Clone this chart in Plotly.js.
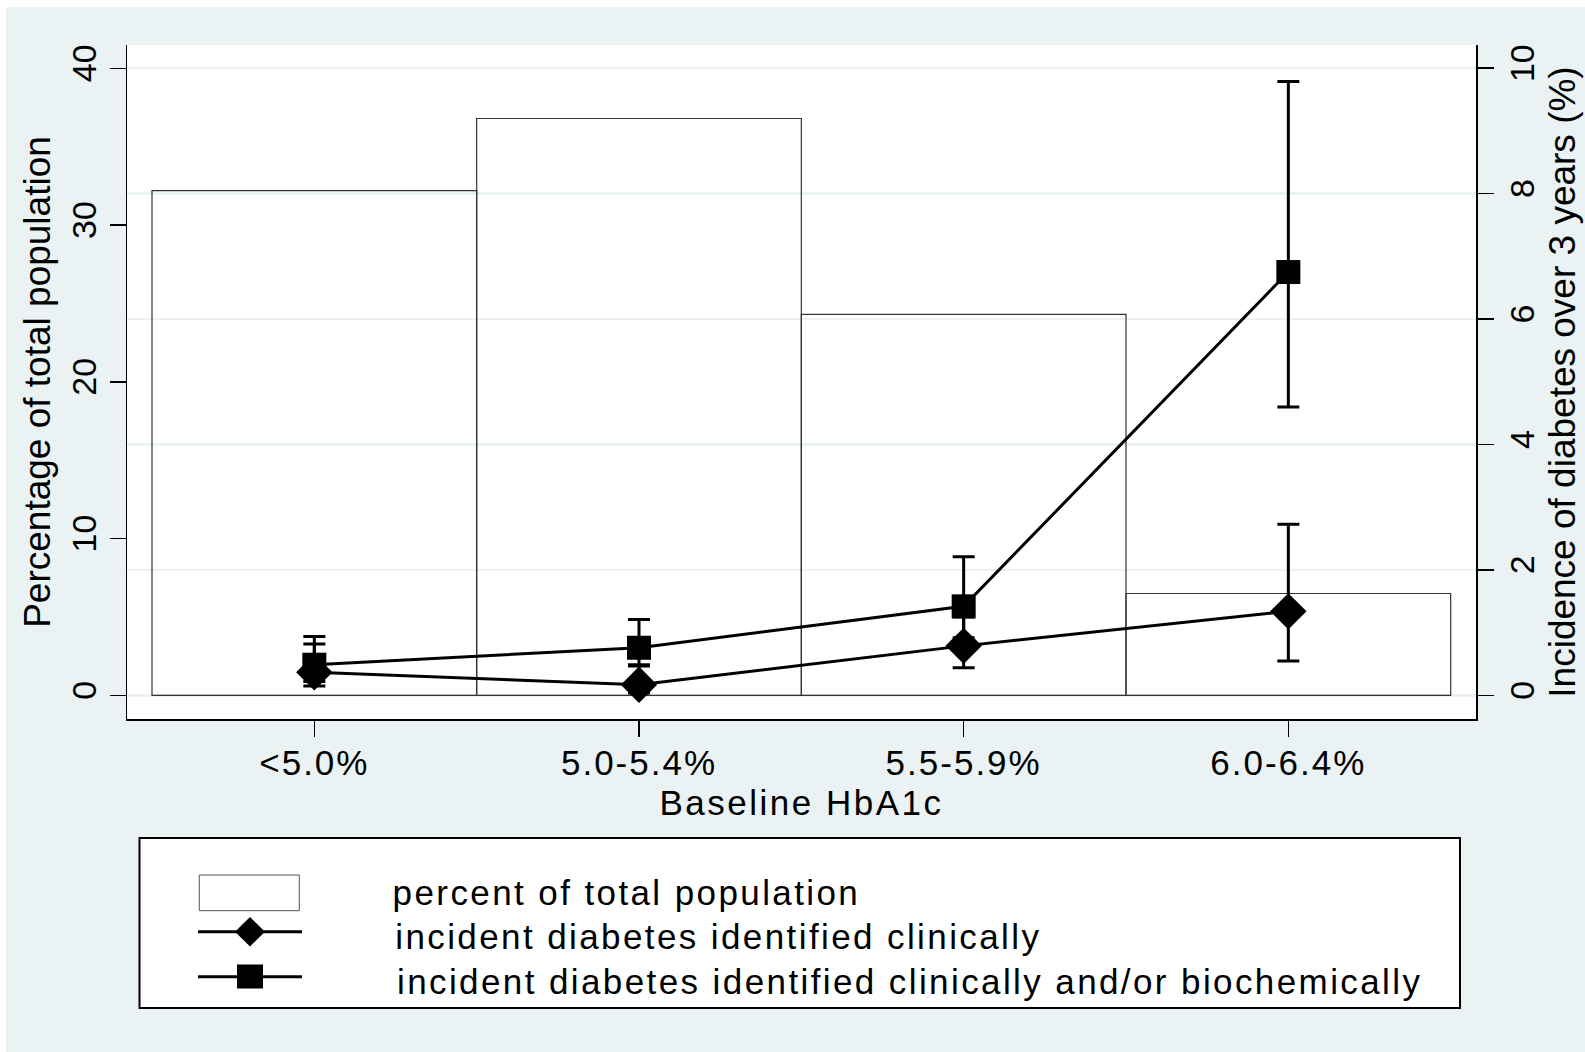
<!DOCTYPE html>
<html>
<head>
<meta charset="utf-8">
<script src="https://cdn.plot.ly/plotly-3.0.1.min.js"></script>
<style>
  html, body { margin: 0; padding: 0; background: #ffffff; }
  #chart { position: absolute; left: 6px; top: 7px; width: 1579px; height: 1045px; }
  /* reference text is horizontally stretched: widen horizontal text a little */
  #chart .xtick text { letter-spacing: 2px; }
  #chart .g-xtitle text { letter-spacing: 2.5px; }
  #chart .annotation-text { letter-spacing: 2.4px; }
</style>
</head>
<body>
<div id="chart"></div>
<script>
// ---- data ----
const categories = ['<5.0%', '5.0-5.4%', '5.5-5.9%', '6.0-6.4%'];
const pctPopulation = [32.2, 36.8, 24.3, 6.5];

const clinical      = [0.37, 0.17, 0.79, 1.34];
const clinicalLow   = [0.15, 0.04, 0.44, 0.55];
const clinicalHigh  = [0.82, 0.49, 1.25, 2.73];

const combined      = [0.49, 0.76, 1.42, 6.75];
const combinedLow   = [0.22, 0.47, 0.92, 4.60];
const combinedHigh  = [0.94, 1.21, 2.21, 9.79];

const leftTicks  = [0, 10, 20, 30, 40];
const rightTicks = [0, 2, 4, 6, 8, 10];

const legendLabels = [
  'percent of total population',
  'incident diabetes identified clinically',
  'incident diabetes identified clinically and/or biochemically'
];

// ---- layout helpers (page pixel -> paper coords) ----
const FONT = 'Liberation Sans, Arial, sans-serif';
const PL = 127, PR = 1476, PT = 45, PB = 719;
const px = X => (X - PL) / (PR - PL);
const py = Y => (PB - Y) / (PB - PT);
const LEGEND_SPACING = 2.4;

const bg = '#EAF2F3';

const traces = [
  {
    type: 'bar', x: categories, y: pctPopulation, yaxis: 'y',
    name: legendLabels[0], width: 1,
    marker: { color: 'rgba(255,255,255,0)', line: { color: '#333333', width: 1.2 } },
    showlegend: false, hoverinfo: 'x+y'
  },
  {
    type: 'scatter', mode: 'lines+markers', x: categories, y: clinical, yaxis: 'y2',
    name: legendLabels[1],
    line: { color: '#000', width: 3 },
    marker: { symbol: 'diamond', size: 28, color: '#000' },
    error_y: {
      type: 'data', symmetric: false,
      array: clinicalHigh.map((v, i) => v - clinical[i]),
      arrayminus: clinical.map((v, i) => v - clinicalLow[i]),
      color: '#000', thickness: 3, width: 11
    },
    showlegend: false
  },
  {
    type: 'scatter', mode: 'lines+markers', x: categories, y: combined, yaxis: 'y2',
    name: legendLabels[2],
    line: { color: '#000', width: 3 },
    marker: { symbol: 'square', size: 24, color: '#000' },
    error_y: {
      type: 'data', symmetric: false,
      array: combinedHigh.map((v, i) => v - combined[i]),
      arrayminus: combined.map((v, i) => v - combinedLow[i]),
      color: '#000', thickness: 3, width: 11
    },
    showlegend: false
  }
];

const tickFont = { family: FONT, size: 34, color: '#000' };
const xTickFont = { family: FONT, size: 35, color: '#000' };
const titleFont = { family: FONT, size: 37, color: '#000' };
const xTitleFont = { family: FONT, size: 35, color: '#000' };

// custom legend
const LX0 = 198, LX1 = 302;
const shapes = [
  { type: 'rect', xref: 'paper', yref: 'paper', x0: px(139.5), x1: px(1460), y0: py(1008), y1: py(838),
    fillcolor: '#fff', line: { color: '#000', width: 2 }, layer: 'above' },
  { type: 'rect', xref: 'paper', yref: 'paper', x0: px(199.3), x1: px(299.3), y0: py(910.7), y1: py(875),
    fillcolor: '#fff', line: { color: '#555', width: 1 }, layer: 'above' },
  { type: 'line', xref: 'paper', yref: 'paper', x0: px(LX0), x1: px(LX1), y0: py(931.7), y1: py(931.7),
    line: { color: '#000', width: 3 }, layer: 'above' },
  { type: 'path', xref: 'paper', yref: 'paper',
    path: `M ${px(235)} ${py(931.7)} L ${px(250)} ${py(917)} L ${px(265)} ${py(931.7)} L ${px(250)} ${py(946.4)} Z`,
    fillcolor: '#000', line: { color: '#000', width: 0 }, layer: 'above' },
  { type: 'line', xref: 'paper', yref: 'paper', x0: px(LX0), x1: px(LX1), y0: py(976.7), y1: py(976.7),
    line: { color: '#000', width: 3 }, layer: 'above' },
  { type: 'rect', xref: 'paper', yref: 'paper', x0: px(237), x1: px(263), y0: py(988.5), y1: py(964.5),
    fillcolor: '#000', line: { color: '#000', width: 0 }, layer: 'above' }
];

const legendY = [892, 936, 981];
const legendX = [391, 393, 395];
const annotations = legendLabels.map((t, i) => ({
  xref: 'paper', yref: 'paper', x: px(legendX[i]), y: py(legendY[i]),
  xanchor: 'left', yanchor: 'middle', showarrow: false, text: t,
  xshift: t.length * LEGEND_SPACING / 2,
  font: { family: FONT, size: 35, color: '#000' }
}));

const layout = {
  width: 1579, height: 1045,
  margin: { l: PL - 6, r: 1579 - (PR - 6), t: PT - 7, b: 1045 - (PB - 7), pad: 0 },
  paper_bgcolor: bg,
  plot_bgcolor: '#ffffff',
  font: { family: FONT, size: 34, color: '#000' },
  showlegend: false,
  bargap: 0,
  xaxis: {
    range: [-0.577, 3.578],
    showline: true, linecolor: '#000', linewidth: 1.5,
    ticks: 'outside', ticklen: 16, tickwidth: 1.5, tickcolor: '#000',
    tickfont: xTickFont, ticklabelstandoff: -4, showgrid: false, zeroline: false,
    title: { text: 'Baseline HbA1c', font: xTitleFont, standoff: 10 }
  },
  yaxis: {
    range: [-1.505, 41.49], tickmode: 'array', tickvals: leftTicks, ticktext: leftTicks.map(String),
    tickangle: -90,
    showline: true, linecolor: '#000', linewidth: 1.5,
    ticks: 'outside', ticklen: 16, tickwidth: 1.5, tickcolor: '#000',
    tickfont: tickFont, showgrid: false, zeroline: false,
    title: { text: 'Percentage of total population', font: titleFont, standoff: 3 }
  },
  yaxis2: {
    overlaying: 'y', side: 'right',
    range: [-0.376, 10.37], tickmode: 'array', tickvals: rightTicks, ticktext: rightTicks.map(String),
    tickangle: -90,
    showline: true, linecolor: '#000', linewidth: 1.5,
    ticks: 'outside', ticklen: 16, tickwidth: 1.5, tickcolor: '#000',
    tickfont: tickFont, showgrid: true, gridcolor: bg, gridwidth: 2.5, zeroline: false,
    title: { text: 'Incidence of diabetes over 3 years (%)', font: titleFont, standoff: 9 }
  },
  shapes: shapes,
  annotations: annotations
};

Plotly.newPlot('chart', traces, layout, { displayModeBar: false, staticPlot: true });
</script>
</body>
</html>
